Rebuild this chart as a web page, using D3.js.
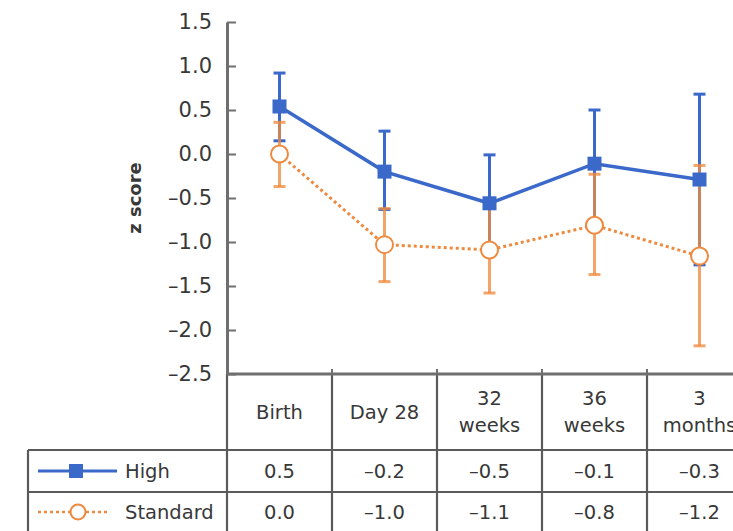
<!DOCTYPE html>
<html>
<head>
<meta charset="utf-8">
<script src="https://cdnjs.cloudflare.com/ajax/libs/d3/7.8.5/d3.min.js"></script>
<style>
  html, body { margin: 0; padding: 0; background: #fff; }
  svg { display: block; }
  text { font-family: "DejaVu Sans", sans-serif; fill: #383838; }
</style>
</head>
<body>
<svg id="chart" width="733" height="531"></svg>
<script>
// ---- data ----
const categories = [["Birth"], ["Day 28"], ["32", "weeks"], ["36", "weeks"], ["3", "months"]];
const seriesNames = ["High", "Standard"];
const highMean  = [0.54, -0.20, -0.56, -0.11, -0.29];
const highUpper = [0.92, 0.26, -0.01, 0.50, 0.68];
const highLower = [0.15, -0.63, -1.11, -0.75, -1.26];
const standardMean  = [0.00, -1.03, -1.09, -0.81, -1.16];
const standardUpper = [0.36, -0.62, -0.60, -0.23, -0.13];
const standardLower = [-0.37, -1.45, -1.58, -1.37, -2.18];
const highTable = ["0.5", "\u20130.2", "\u20130.5", "\u20130.1", "\u20130.3"];
const standardTable = ["0.0", "\u20131.0", "\u20131.1", "\u20130.8", "\u20131.2"];
const yTicks = [1.5, 1.0, 0.5, 0.0, -0.5, -1.0, -1.5, -2.0, -2.5];
const yLabel = "z score";

// ---- layout ----
const W = 733, H = 531;
const axisX = 227, plotTop = 22, plotBottom = 374;
const tableLeft = 28, headerBottom = 450, rowSep = 492, tableBottom = 534;
const blue = "#3a69ca", orange = "#ee8a3f";

const svg = d3.select("#chart");

const x = d3.scaleBand().domain(d3.range(categories.length)).range([axisX, axisX + 105 * 5]).padding(0);
const y = d3.scaleLinear().domain([-2.5, 1.5]).range([plotBottom, plotTop]);
const cx = i => x(i) + x.bandwidth() / 2;
const fmt = v => (v < 0 ? "\u2013" : "") + Math.abs(v).toFixed(1);

// ---- table grid ----
const grid = svg.append("g").attr("stroke", "#5a5a5a").attr("stroke-width", 2.2);
[headerBottom, rowSep, tableBottom].forEach(yy => {
  grid.append("line").attr("x1", tableLeft).attr("x2", W).attr("y1", yy).attr("y2", yy);
});
grid.append("line").attr("x1", tableLeft).attr("x2", tableLeft).attr("y1", headerBottom).attr("y2", H);
const edges = d3.range(categories.length + 1).map(i => i < categories.length ? x(i) : x(i - 1) + x.bandwidth());
edges.forEach(ex => {
  grid.append("line").attr("x1", ex).attr("x2", ex).attr("y1", plotBottom).attr("y2", H);
});

// ---- x axis (top of table) ----
const xAxisG = svg.append("g").attr("transform", `translate(0,${plotBottom})`);
xAxisG.append("line").attr("x1", axisX).attr("x2", W).attr("y1", 0).attr("y2", 0)
  .attr("stroke", "#6f6f6f").attr("stroke-width", 3);
edges.slice(1).forEach(ex => {
  xAxisG.append("line").attr("x1", ex).attr("x2", ex).attr("y1", 0).attr("y2", -5)
    .attr("stroke", "#6f6f6f").attr("stroke-width", 2);
});

// ---- y axis ----
const yAxis = d3.axisLeft(y).tickValues(yTicks).tickFormat(fmt)
  .tickSizeInner(-9).tickSizeOuter(0).tickPadding(15);
const yG = svg.append("g").attr("transform", `translate(${axisX},0)`).call(yAxis);
yG.select(".domain").attr("stroke", "#6f6f6f").attr("stroke-width", 3);
yG.selectAll(".tick line").attr("stroke", "#6f6f6f").attr("stroke-width", 2);
yG.selectAll(".tick text").attr("font-family", "DejaVu Sans, sans-serif")
  .attr("font-size", 21).attr("fill", "#404040");

svg.append("text")
  .attr("transform", `translate(141,198) rotate(-90)`)
  .attr("text-anchor", "middle").attr("font-size", 18).attr("font-weight", "bold")
  .attr("fill", "#222").text(yLabel);

// ---- series ----
function errorBars(g, mean, up, lo, color, opacity) {
  const eg = g.append("g").attr("stroke", color).attr("stroke-width", 3).attr("stroke-opacity", opacity);
  mean.forEach((m, i) => {
    eg.append("line").attr("x1", cx(i)).attr("x2", cx(i)).attr("y1", y(up[i])).attr("y2", y(lo[i]));
    [up[i], lo[i]].forEach(v => {
      eg.append("line").attr("x1", cx(i) - 6).attr("x2", cx(i) + 6).attr("y1", y(v)).attr("y2", y(v));
    });
  });
}
const line = d3.line().x((d, i) => cx(i)).y(d => y(d));

const plot = svg.append("g");
errorBars(plot, highMean, highUpper, highLower, blue, 1);
plot.append("path").datum(highMean).attr("d", line).attr("fill", "none")
  .attr("stroke", blue).attr("stroke-width", 3.5);
errorBars(plot, standardMean, standardUpper, standardLower, orange, 0.78);
plot.append("path").datum(standardMean).attr("d", line).attr("fill", "none")
  .attr("stroke", orange).attr("stroke-width", 3).attr("stroke-dasharray", "3,3");
plot.selectAll("rect.hm").data(highMean).join("rect").attr("class", "hm")
  .attr("x", (d, i) => cx(i) - 7).attr("y", d => y(d) - 7)
  .attr("width", 14).attr("height", 14).attr("fill", blue);
plot.selectAll("circle.sm").data(standardMean).join("circle").attr("class", "sm")
  .attr("cx", (d, i) => cx(i)).attr("cy", d => y(d)).attr("r", 8.5)
  .attr("fill", "#fff").attr("stroke", orange).attr("stroke-width", 2);

// ---- table text ----
const fs = 19.5;
const header = svg.append("g");
categories.forEach((lines, i) => {
  const t = header.append("text").attr("x", cx(i)).attr("font-size", fs).attr("text-anchor", "middle");
  const mid = (plotBottom + headerBottom) / 2;
  if (lines.length === 1) {
    t.append("tspan").attr("x", cx(i)).attr("y", mid).attr("dy", "0.35em").text(lines[0]);
  } else {
    lines.forEach((ln, k) => {
      t.append("tspan").attr("x", cx(i)).attr("y", mid + (k - 0.5) * 27).attr("dy", "0.35em").text(ln);
    });
  }
});
const row1 = (headerBottom + rowSep) / 2, row2 = (rowSep + tableBottom) / 2 - 1;
[[highTable, row1], [standardTable, row2]].forEach(([vals, ry]) => {
  vals.forEach((v, i) => {
    svg.append("text").attr("x", cx(i)).attr("y", ry).attr("dy", "0.35em")
      .attr("text-anchor", "middle").attr("font-size", fs).text(v);
  });
});

// ---- legend in table ----
const lg = svg.append("g");
lg.append("line").attr("x1", 38).attr("x2", 117).attr("y1", row1).attr("y2", row1)
  .attr("stroke", blue).attr("stroke-width", 3);
lg.append("rect").attr("x", 76 - 7).attr("y", row1 - 7).attr("width", 14).attr("height", 14).attr("fill", blue);
lg.append("text").attr("x", 125).attr("y", row1).attr("dy", "0.35em").attr("font-size", fs).text(seriesNames[0]);
lg.append("line").attr("x1", 38).attr("x2", 110).attr("y1", row2).attr("y2", row2)
  .attr("stroke", orange).attr("stroke-width", 2.5).attr("stroke-dasharray", "3,3");
lg.append("circle").attr("cx", 78).attr("cy", row2).attr("r", 7.5)
  .attr("fill", "#fff").attr("stroke", orange).attr("stroke-width", 2);
lg.append("text").attr("x", 125).attr("y", row2).attr("dy", "0.35em").attr("font-size", fs).text(seriesNames[1]);
</script>
</body>
</html>
